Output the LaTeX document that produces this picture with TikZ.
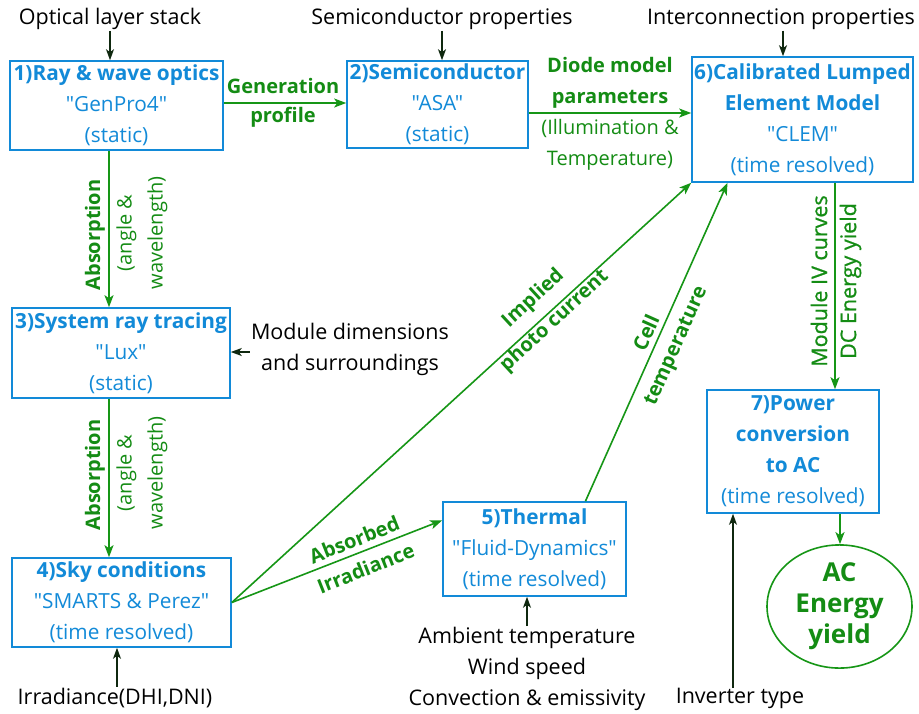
\documentclass[tikz,border=0pt]{standalone}
\usepackage{fontspec}
\newfontfamily\osans{Open Sans}
\newfontfamily\osanssemi{Open Sans}[FakeBold=0.8]
\setmainfont{Open Sans}
\usetikzlibrary{arrows.meta,calc,shapes.geometric}
\definecolor{boxblue}{RGB}{18,138,216}
\definecolor{arrgreen}{RGB}{22,150,22}
\definecolor{txtgreen}{RGB}{20,140,20}
\definecolor{inkdark}{RGB}{15,40,15}
\tikzset{
  fs/.style={font=\osans\fontsize{20.8}{31}\selectfont},
  fsb/.style={font=\osans\fontsize{20}{31}\selectfont\bfseries},
  fsg/.style={font=\osans\fontsize{20}{31}\selectfont},
  stepbox/.style={draw=boxblue,line width=1.6pt,text=boxblue,align=center,inner sep=0pt,fs},
  flow/.style={draw=arrgreen,line width=1.6pt,-{Stealth[length=12pt,width=9pt,inset=3pt]}},
  inarrow/.style={draw=inkdark,line width=1.4pt,-{Stealth[length=11pt,width=8pt,inset=3pt]}},
  intext/.style={text=black,align=center,font=\osans\fontsize{21.5}{31}\selectfont,inner sep=1pt},
  glab/.style={text=txtgreen,align=center,fsg,inner sep=0pt},
  glabb/.style={text=txtgreen,align=center,fsb,inner sep=0pt},
}
\begin{document}
\begin{tikzpicture}[x=1pt,y=-1pt]
\useasboundingbox[fill=white] (0,0) rectangle (919,713);
% boxes
\node[stepbox,minimum width=213pt,minimum height=89pt] (b1) at (116.5,105.5)
  {\textbf{1)Ray \& wave optics}\\"GenPro4"\\(static)};
\node[stepbox,minimum width=181pt,minimum height=87pt] (b2) at (437.5,104.5)
  {\textbf{2)Semiconductor}\\"ASA"\\(static)};
\node[stepbox,minimum width=221pt,minimum height=125pt] (b6) at (802.5,119.5)
  {\textbf{6)Calibrated Lumped}\\\textbf{Element Model}\\"CLEM"\\(time resolved)};
\node[stepbox,minimum width=218pt,minimum height=90pt] (b3) at (121,353)
  {\textbf{3)System ray tracing}\\"Lux"\\(static)};
\node[stepbox,minimum width=219pt,minimum height=89pt] (b4) at (121.5,602.5)
  {\textbf{4)Sky conditions}\\"SMARTS \& Perez"\\(time resolved)};
\node[stepbox,minimum width=183pt,minimum height=94pt] (b5) at (534.5,549)
  {\textbf{5)Thermal}\\"Fluid-Dynamics"\\(time resolved)};
\node[stepbox,minimum width=172pt,minimum height=123pt] (b7) at (793,451.5)
  {\textbf{7)Power}\\\textbf{conversion}\\\textbf{to AC}\\(time resolved)};
\node[ellipse,draw=arrgreen,line width=1.6pt,minimum width=145pt,minimum height=113pt,inner sep=0pt,
  text=txtgreen,align=center,font=\osans\fontsize{26}{31}\selectfont\bfseries] (ell) at (839.5,606.5)
  {AC\\Energy\\yield};
% external inputs
\node[intext] (t1) at (110,19) {Optical layer stack};
\node[intext] (t2) at (442,19) {Semiconductor properties};
\node[intext] (t6) at (781,19) {Interconnection properties};
\node[intext] (tm) at (350,349) {Module dimensions\\and surroundings};
\node[intext] (ti) at (115,698) {Irradiance(DHI,DNI)};
\node[intext] (tt) at (527,669) {Ambient temperature\\Wind speed\\Convection \& emissivity};
\node[intext] (tv) at (740,698) {Inverter type};
\coordinate (pv) at (733,688);
\draw[inarrow] (t1.south) -- (b1.north -| t1.south);
\draw[inarrow] (t2.south) -- (b2.north -| t2.south);
\draw[inarrow] (t6.south -| 783,0) -- (b6.north -| 783,0);
\draw[inarrow] (tm.west |- 0,352) -- (b3.east |- 0,352);
\draw[inarrow] (ti.north -| 117,0) -- (b4.south -| 117,0);
\draw[inarrow] (tt.north) -- (b5.south -| tt.north);
\draw[inarrow] (pv) -- (b7.south -| pv);
% flows
\draw[flow] (b1.east |- 0,103) -- (b2.west |- 0,103);
\node[glabb] (lg1) at (283,86) {Generation};
\node[glabb] (lg2) at (283,117) {profile};
\draw[flow] (b2.east |- 0,113) -- (b6.west |- 0,113);
\node[glabb] (ld1) at (610,83) {Diode model\\parameters};
\node[glab] (ld2) at (610,145) {(Illumination \&\\Temperature)};
\draw[flow] (b1.south -| 109,0) -- (b3.north -| 109,0);
\node[glabb,rotate=90] (la1) at (95,235) {Absorption};
\node[glab,rotate=90] (la2) at (142,233) {(angle \&\\wavelength)};
\draw[flow] (b3.south -| 109,0) -- (b4.north -| 109,0);
\node[glabb,rotate=90] (la3) at (95,475) {Absorption};
\node[glab,rotate=90] (la4) at (142,473) {(angle \&\\wavelength)};
\draw[flow] (b4.east) -- (b6.south west);
\node[glabb,rotate=42.7] (lp) at (544,310) {Implied\\photo current};
\draw[flow] (b4.east) -- ($(b5.north west)!0.2!(b5.south west)$);
\node[glabb,rotate=21.6] (lab) at (360,554) {Absorbed\\Irradiance};
\draw[flow] ($(b5.north west)!0.776!(b5.north east)$) -- ($(b6.south west)!0.163!(b6.south east)$);
\node[glabb,rotate=65.9] (lc) at (662,340) {Cell\\temperature};
\draw[flow] (b6.south -| 835,0) -- (b7.north -| 835,0);
\node[text=txtgreen,align=center,inner sep=0pt,rotate=90,font=\osanssemi\fontsize{21.5}{29}\selectfont] (lm) at (836,281) {Module IV curves\\DC Energy yield};
\draw[flow] (b7.south -| 840,0) -- (ell.north -| 840,0);
\end{tikzpicture}
\end{document}
